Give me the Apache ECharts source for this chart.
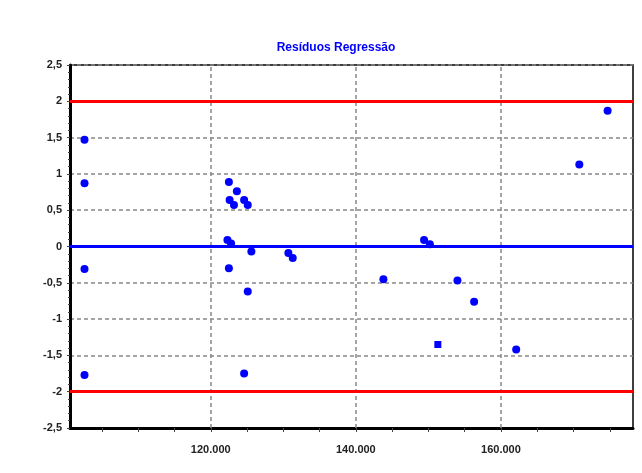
<!DOCTYPE html>
<html>
<head>
<meta charset="utf-8">
<script src="https://cdn.jsdelivr.net/npm/echarts@6/dist/echarts.min.js"></script>
<style>
  html, body { margin: 0; padding: 0; background: #fff; }
  #main { width: 642px; height: 473px; }
</style>
</head>
<body>
<div id="main"></div>
<script>
// residuos (x = valor previsto, y = residuo padronizado)
var xVals = [102600, 102600, 102600, 102600, 122500, 123600, 122600, 123200, 124600, 125100,
             122300, 122800, 122500, 125600, 125100, 124600, 130700, 131300, 143800, 149400,
             150200, 154000, 156300, 162100, 170800, 174700];
var yVals = [1.47, 0.87, -0.31, -1.77, 0.89, 0.76, 0.64, 0.57, 0.64, 0.57,
             0.09, 0.04, -0.30, -0.07, -0.62, -1.75, -0.09, -0.16, -0.45, 0.09,
             0.03, -0.47, -0.76, -1.42, 1.13, 1.87];
// ponto marcado com quadrado
var squareX = [151300];
var squareY = [-1.35];

var limitLines = [2, -2];
var zeroLine = [0];
var xGridValues = [120000, 140000, 160000];
var xTickValues = [105000, 110000, 115000, 120000, 125000, 130000, 135000, 140000,
                   145000, 150000, 155000, 160000, 165000, 170000, 175000];

var pts = xVals.map(function (x, i) { return [x, yVals[i]]; });
var sq = squareX.map(function (x, i) { return [x, squareY[i]]; });

var labelFont = {
    color: '#222',
    fontFamily: 'Liberation Sans',
    fontSize: 11,
    fontWeight: 'bold'
};

var option = {
    animation: false,
    backgroundColor: '#fff',
    title: {
        text: 'Resíduos Regressão',
        left: 331,
        top: 37,
        textAlign: 'center',
        textStyle: { color: '#0000ff', fontSize: 12, fontWeight: 'bold', fontFamily: 'Liberation Sans' }
    },
    grid: {
        left: 70, right: 9, top: 65, bottom: 45,
        show: true,
        borderColor: '#000',
        borderWidth: 1.5
    },
    xAxis: {
        type: 'value',
        min: 100600,
        max: 178200,
        axisLine: { show: true, onZero: false, lineStyle: { color: '#000', width: 3 } },
        axisTick: { show: true, customValues: xTickValues, length: 4, lineStyle: { color: '#444' } },
        axisLabel: Object.assign({
            customValues: xGridValues,
            margin: 16,
            formatter: function (v) { return (v / 1000).toFixed(3); }
        }, labelFont),
        splitLine: { show: false }
    },
    yAxis: {
        type: 'value',
        min: -2.5,
        max: 2.5,
        interval: 0.5,
        axisLine: { show: true, lineStyle: { color: '#000', width: 3 } },
        axisTick: { show: true, length: 3, lineStyle: { color: '#444' } },
        minorTick: { show: true, splitNumber: 5, length: 2, lineStyle: { color: '#444' } },
        axisLabel: Object.assign({
            margin: 8,
            formatter: function (v) { return String(v).replace('.', ','); }
        }, labelFont),
        splitLine: { show: true, lineStyle: { color: '#888', width: 1.5, type: [4, 3] } }
    },
    series: [
        {
            name: 'grade',
            type: 'line',
            data: [],
            markLine: {
                silent: true,
                symbol: 'none',
                label: { show: false },
                lineStyle: { color: '#888', width: 1.5, type: [4, 3] },
                data: xGridValues.map(function (v) { return { xAxis: v }; })
            }
        },
        {
            name: 'limites',
            type: 'line',
            data: [],
            markLine: {
                silent: true,
                symbol: 'none',
                label: { show: false },
                lineStyle: { color: '#ff0000', width: 3, type: 'solid' },
                data: limitLines.map(function (v) { return { yAxis: v }; })
            }
        },
        {
            name: 'zero',
            type: 'line',
            data: [],
            markLine: {
                silent: true,
                symbol: 'none',
                label: { show: false },
                lineStyle: { color: '#0000ff', width: 3, type: 'solid' },
                data: zeroLine.map(function (v) { return { yAxis: v }; })
            }
        },
        {
            name: 'residuos',
            type: 'scatter',
            symbol: 'circle',
            symbolSize: 8,
            itemStyle: { color: '#0000ff', opacity: 1 },
            data: pts,
            z: 5
        },
        {
            name: 'quadrado',
            type: 'scatter',
            symbol: 'rect',
            symbolSize: 7,
            itemStyle: { color: '#0000ff', opacity: 1 },
            data: sq,
            z: 5
        }
    ]
};

var myChart = echarts.init(document.getElementById('main'));
myChart.setOption(option);
</script>
</body>
</html>
